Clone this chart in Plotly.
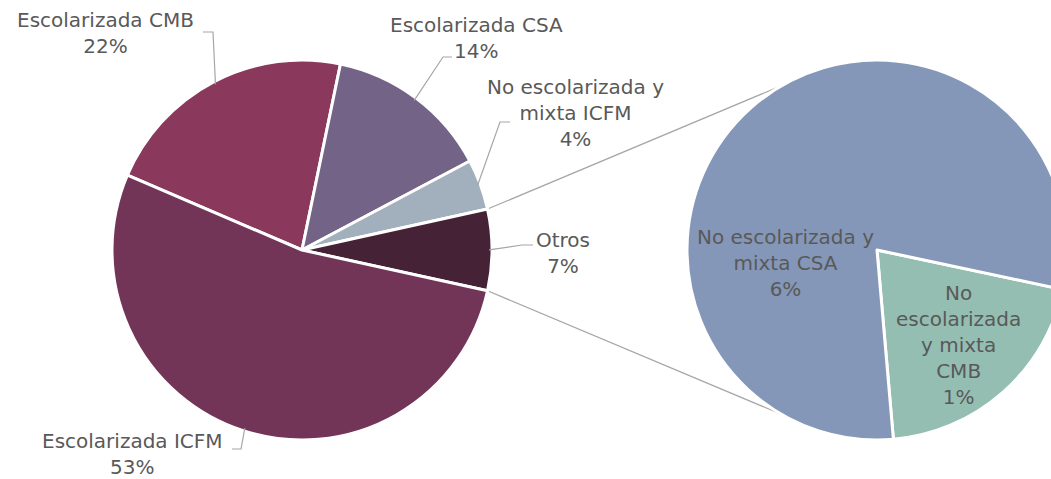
import math
import plotly.graph_objects as go

# ---- data ----
main_labels = ["Escolarizada CMB", "Escolarizada CSA", "No escolarizada y mixta ICFM", "Otros", "Escolarizada ICFM"]
main_values = [21.8, 14.0, 4.3, 6.9, 53.0]
main_colors = ["#8A395D", "#736487", "#A2AFBC", "#462236", "#723558"]

sub_labels = ["No escolarizada y mixta CMB", "No escolarizada y mixta CSA"]
sub_values = [1.4, 5.5]
sub_colors = ["#93BEB1", "#8497B8"]

# Figure is wider than the window so that the second pie is cut at the edge, as in the original
W, H = 1067, 479
TXT = "#595959"
FONT = "DejaVu Sans"
FS = 20

def px(x):
    return x / W

def py(y):
    return 1 - y / H

# main pie geometry (pixels)
MCX, MCY, MR = 302, 250, 190
MROT = -66.8  # clockwise from 12 o'clock
# sub pie geometry
SCX, SCY, SR = 877, 250, 190
SROT = 102

fig = go.Figure()
fig.add_trace(go.Pie(
    labels=main_labels, values=main_values, sort=False, direction="clockwise",
    rotation=MROT, marker=dict(colors=main_colors, line=dict(color="white", width=3)),
    textinfo="none", hoverinfo="label+percent",
    domain=dict(x=[px(MCX - MR), px(MCX + MR)], y=[py(MCY + MR), py(MCY - MR)]),
    showlegend=False,
))
fig.add_trace(go.Pie(
    labels=sub_labels, values=sub_values, sort=False, direction="clockwise",
    rotation=SROT, marker=dict(colors=sub_colors, line=dict(color="white", width=3)),
    textinfo="none", hoverinfo="label",
    domain=dict(x=[px(SCX - SR), min(1.0, px(SCX + SR))], y=[py(SCY + SR), py(SCY - SR)]),
    showlegend=False,
))

total = sum(main_values)

def slice_angles(values, rot):
    start = 90 - rot
    out = []
    tot = sum(values)
    for v in values:
        span = v / tot * 360
        out.append((start, start - span))
        start -= span
    return out

main_ang = slice_angles(main_values, MROT)

def edge_point(cx, cy, r, ang):
    a = math.radians(ang)
    return cx + r * math.cos(a), cy - r * math.sin(a)

LH = 25  # line height in px
label_specs = [
    (["Escolarizada CMB"], 105, 20, (213, 32), (203, 32)),
    (["Escolarizada CSA"], 476, 25, (443, 57), (452, 57)),
    (["No escolarizada y", "mixta ICFM"], 575, 88, (500, 122), (510, 122)),
    (["Otros"], 563, 240, (522, 245), (533, 245)),
    (["Escolarizada ICFM"], 132, 441, (241, 449), (232, 449)),
]

for i, (lines, tx, ty, elbow, end) in enumerate(label_specs):
    pct = f"{main_values[i] / total * 100:.0f}%"
    text_lines = lines + [pct]
    n = len(text_lines)
    cy_text = ty + (n - 1) * LH / 2
    fig.add_annotation(
        x=px(tx), y=py(cy_text), xref="paper", yref="paper",
        text="<br>".join(text_lines), showarrow=False,
        font=dict(family=FONT, size=FS, color=TXT), align="center",
        xanchor="center", yanchor="middle",
    )
    a0, a1 = main_ang[i]
    sx, sy = edge_point(MCX, MCY, MR - 3, (a0 + a1) / 2)
    fig.add_shape(type="path",
                  path=f"M {px(sx)},{py(sy)} L {px(elbow[0])},{py(elbow[1])} L {px(end[0])},{py(end[1])}",
                  xref="paper", yref="paper", line=dict(color="#A6A6A6", width=1.2))

# connector lines from "Otros" slice to the sub pie
o0, o1 = main_ang[3]
for ang_main, ang_sub in [(o0, 120), (o1, -120)]:
    x0, y0 = edge_point(MCX, MCY, MR, ang_main)
    x1, y1 = edge_point(SCX, SCY, SR, ang_sub)
    fig.add_shape(type="line", x0=px(x0), y0=py(y0), x1=px(x1), y1=py(y1),
                  xref="paper", yref="paper", line=dict(color="#A6A6A6", width=1.2), layer="below")

sub_text = [
    (["No", "escolarizada", "y mixta", "CMB"], 958, 295),
    (["No escolarizada y", "mixta CSA"], 785, 238),
]
for i, (lines, tx, ty) in enumerate(sub_text):
    pct = f"{sub_values[i] / total * 100:.0f}%"
    text_lines = lines + [pct]
    n = len(text_lines)
    cy_text = ty + (n - 1) * LH / 2
    fig.add_annotation(
        x=px(tx), y=py(cy_text), xref="paper", yref="paper",
        text="<br>".join(text_lines), showarrow=False,
        font=dict(family=FONT, size=FS, color=TXT), align="center",
        xanchor="center", yanchor="middle",
    )

fig.update_layout(
    width=W, height=H, margin=dict(l=0, r=0, t=0, b=0),
    paper_bgcolor="white", plot_bgcolor="white",
)
fig.write_html(
    "out.html",
    config={"displayModeBar": False},
    post_script="document.body.style.margin='0';document.body.style.overflow='hidden';",
)
